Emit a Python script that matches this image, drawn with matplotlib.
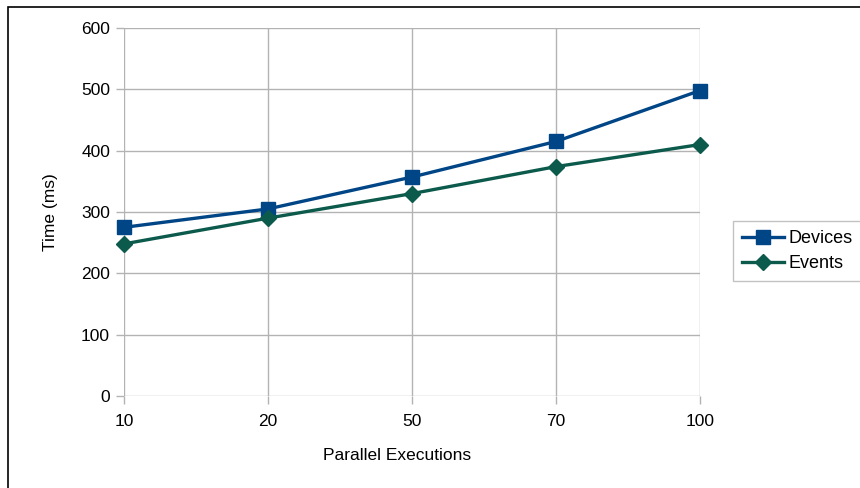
import matplotlib.pyplot as plt
from matplotlib.patches import Rectangle

# Data
executions = ['10', '20', '50', '70', '100']
devices = [275, 305, 357, 415, 498]
events = [248, 290, 330, 374, 410]
y_ticks = [0, 100, 200, 300, 400, 500, 600]

plt.rcParams['font.family'] = ['Liberation Sans', 'DejaVu Sans']

fig = plt.figure(figsize=(8.6, 4.88), dpi=100)
ax = fig.add_axes([124 / 860, 1 - 396 / 488, 576 / 860, 368 / 488])

# frame around the chart (only the left and top edges are visible)
fig.patches.append(Rectangle((8 / 860, -0.2), 1.2, 1.2 - 7 / 488,
                             transform=fig.transFigure, fill=False,
                             edgecolor='black', linewidth=1.2))

x = list(range(len(executions)))
ax.plot(x, devices, color='#004586', linewidth=2.4, marker='s',
        markersize=9.5, label='Devices', zorder=3, clip_on=False)
ax.plot(x, events, color='#0c5a4c', linewidth=2.4, marker='D',
        markersize=8, label='Events', zorder=3, clip_on=False)

ax.set_xlim(0, len(executions) - 1)
ax.set_ylim(0, 600)
ax.set_xticks(x)
ax.set_xticklabels(executions)
ax.set_yticks(y_ticks)

ax.grid(True, color='#b3b3b3', linewidth=1)
ax.set_axisbelow(True)
for side in ['top', 'right', 'bottom', 'left']:
    ax.spines[side].set_visible(False)
ax.tick_params(axis='both', colors='#b3b3b3', labelcolor='black',
               labelsize=12.5, length=6, width=1)
ax.tick_params(axis='x', pad=7)
ax.tick_params(axis='y', pad=4)

ax.set_xlabel('Parallel Executions', fontsize=12.5)
ax.xaxis.set_label_coords((397 - 124) / 576, -0.14)
ax.set_ylabel('Time (ms)', fontsize=12.5, labelpad=17)

leg = ax.legend(loc='upper left', bbox_to_anchor=(733 / 860, 1 - 221 / 488),
                bbox_transform=fig.transFigure, fontsize=13, frameon=True,
                fancybox=False, edgecolor='#b3b3b3', handlelength=2.3,
                borderpad=0.5, labelspacing=0.45, handletextpad=0.25,
                borderaxespad=0)
leg.get_frame().set_linewidth(1)

fig.savefig('out.png', dpi=100)
